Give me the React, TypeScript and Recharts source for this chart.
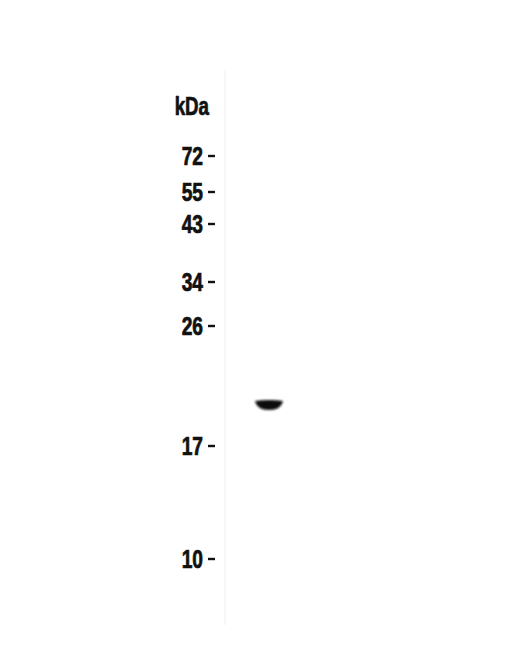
import { ComposedChart, Scatter, XAxis, YAxis, ReferenceLine } from 'recharts';

// marker ladder: size (kDa) and migration (px from top of membrane image)
const markerKda = [72, 55, 43, 34, 26, 17, 10];
const markerMigration = [156, 192, 224, 282, 326, 446, 559];

// detected bands: lane number, migration, intensity
const bandLanes = [1];
const bandMigration = [405];
const bandIntensity = [1];

const bands = bandLanes.map((lane, i) => ({
  lane,
  migration: bandMigration[i],
  intensity: bandIntensity[i],
}));

const labelFont = "'Liberation Sans', Arial, sans-serif";

function MarkerTick(props: any) {
  const { x, y, payload } = props;
  const idx = markerMigration.indexOf(payload.value);
  const kda = idx >= 0 ? markerKda[idx] : payload.value;
  const right = x - 14;
  return (
    <g>
      <text
        transform={`translate(${right},${y + 9}) scale(0.8,1.05)`}
        textAnchor="end"
        fontFamily={labelFont}
        fontWeight="bold"
        fontSize={24}
        fill="#111"
        stroke="#111"
        strokeWidth={0.7}
      >
        {kda}
      </text>
      <line x1={x - 9} x2={x - 2} y1={y} y2={y} stroke="#111" strokeWidth={2.4} />
    </g>
  );
}

function UnitLabel(props: any) {
  const { viewBox } = props;
  const x = viewBox.x + viewBox.width - 16;
  return (
    <text
      transform={`translate(${x},115) scale(0.78,1.05)`}
      textAnchor="end"
      fontFamily={labelFont}
      fontWeight="bold"
      fontSize={24}
      fill="#111"
      stroke="#111"
      strokeWidth={0.7}
    >
      kDa
    </text>
  );
}

function BandShape(props: any) {
  const { cx, cy, payload } = props;
  const w = 28;
  const h = 10;
  const x0 = cx - w / 2;
  const y0 = cy - h / 2;
  const d = `M${x0},${y0 + 1} Q${cx},${y0 - 1} ${x0 + w},${y0 + 1} Q${x0 + w - 2},${y0 + h} ${cx},${y0 + h} Q${x0 + 2},${y0 + h} ${x0},${y0 + 1} Z`;
  return (
    <g>
      <defs>
        <filter id="bandBlur" x="-50%" y="-100%" width="200%" height="300%">
          <feGaussianBlur stdDeviation="1.1" />
        </filter>
      </defs>
      <path d={d} fill="#0a0a0a" fillOpacity={payload.intensity} filter="url(#bandBlur)" />
    </g>
  );
}

export default function App() {
  return (
    <div style={{ position: 'fixed', left: 0, top: 0, width: 520, height: 670, background: '#fff' }}>
      <ComposedChart width={520} height={670} data={bands} margin={{ top: 0, right: 0, bottom: 0, left: 0 }}>
        <XAxis type="number" dataKey="lane" domain={[0.5, 3.85]} hide />
        <YAxis
          type="number"
          dataKey="migration"
          domain={[0, 670]}
          reversed
          width={225}
          ticks={markerMigration}
          interval={0}
          axisLine={false}
          tickLine={false}
          tick={<MarkerTick />}
          label={<UnitLabel />}
        />
        <ReferenceLine
          segment={[{ x: 0.5, y: 70 }, { x: 0.5, y: 625 }]}
          stroke="#f1f1f1"
          strokeWidth={1}
        />
        <Scatter dataKey="migration" shape={<BandShape />} isAnimationActive={false} />
      </ComposedChart>
    </div>
  );
}
